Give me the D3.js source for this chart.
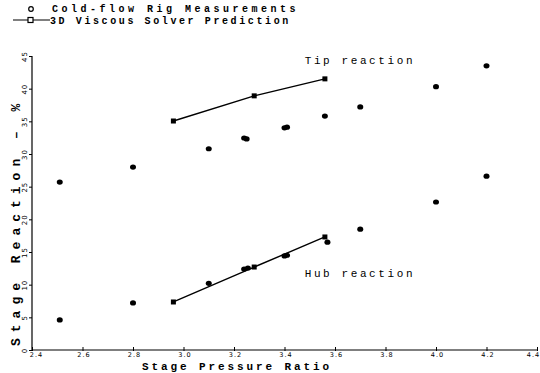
<!DOCTYPE html>
<html><head><meta charset="utf-8">
<script src="https://cdn.jsdelivr.net/npm/d3@7"></script>
<style>body{margin:0;background:#fff}svg{display:block}</style>
</head><body>
<script>
// Data
const measPR   = [2.51, 2.80, 3.10, 3.24, 3.25, 3.40, 3.41, 3.56, 3.70, 4.00, 4.20];
const measTip  = [25.7, 28.0, 30.8, 32.45, 32.3, 34.0, 34.1, 35.8, 37.2, 40.3, 43.5];
const measHubPR= [2.51, 2.80, 3.10, 3.24, 3.255, 3.40, 3.41, 3.57, 3.70, 4.00, 4.20];
const measHub  = [4.6, 7.2, 10.2, 12.4, 12.55, 14.4, 14.5, 16.5, 18.5, 22.65, 26.6];
const predPR   = [2.96, 3.28, 3.56];
const predTip  = [35.05, 38.9, 41.5];
const predHub  = [7.35, 12.7, 17.3];
const xTicks = [2.4, 2.6, 2.8, 3.0, 3.2, 3.4, 3.6, 3.8, 4.0, 4.2, 4.4];
const yTicks = [0, 5, 10, 15, 20, 25, 30, 35, 40, 45];
const legendLabels = ["Cold-flow Rig Measurements", "3D Viscous Solver Prediction"];
const annotations = [{t:"Tip reaction", pr:3.48, v:43.7}, {t:"Hub reaction", pr:3.48, v:11.2}];

const W = 540, H = 373;
const svg = d3.select("body").append("svg").attr("width", W).attr("height", H);
const x = d3.scaleLinear().domain([2.4, 4.4]).range([32, 537]);
const y = d3.scaleLinear().domain([0, 45]).range([350, 56]);
const mono = "'Liberation Mono', 'DejaVu Sans Mono', monospace";

// X axis
const xa = svg.append("g").attr("transform", `translate(0,${y(0)})`)
  .call(d3.axisBottom(x).tickValues(xTicks).tickSize(1).tickPadding(1.5).tickFormat(d3.format(".1f")));
xa.select(".domain").attr("stroke", "#000").attr("stroke-width", 1.2).attr("d", `M${x(2.4)},0H${x(4.4)}`);
xa.selectAll(".tick line").attr("stroke", "#000").attr("y1", -3).attr("y2", 1);
xa.selectAll(".tick text").attr("font-family", "'DejaVu Sans', sans-serif").attr("font-size", 6.5)
  .attr("letter-spacing", 1).attr("fill", "#000")
  .attr("dx", d => d === 4.4 ? -4 : (d === 2.4 ? 4 : 1));

// Y axis
const ya = svg.append("g").attr("transform", `translate(${x(2.4)},0)`)
  .call(d3.axisLeft(y).tickValues(yTicks).tickSize(3).tickPadding(0).tickFormat(d3.format("d")));
ya.select(".domain").attr("stroke", "#000").attr("stroke-width", 1.2).attr("d", `M0,${y(45)}V${y(0)}`);
ya.selectAll(".tick line").attr("stroke", "#000");
ya.selectAll(".tick text").attr("font-family", "'DejaVu Sans', sans-serif").attr("font-size", 7)
  .attr("fill", "#000").attr("text-anchor", "middle").attr("letter-spacing", 1)
  .attr("transform", "translate(-7,0) rotate(-90)").attr("x", 0).attr("dy", "0.35em");

// Prediction lines
const line = d3.line().x(d => x(d[0])).y(d => y(d[1]));
[predTip, predHub].forEach(arr => {
  const pts = predPR.map((p, i) => [p, arr[i]]);
  svg.append("path").attr("d", line(pts)).attr("fill", "none").attr("stroke", "#000").attr("stroke-width", 1.4);
  svg.selectAll(null).data(pts).enter().append("rect")
    .attr("x", d => x(d[0]) - 2.5).attr("y", d => y(d[1]) - 2.5)
    .attr("width", 5).attr("height", 5).attr("fill", "#000");
});

// Measurements
const meas = measPR.map((p, i) => [p, measTip[i]]).concat(measHubPR.map((p, i) => [p, measHub[i]]));
svg.selectAll(null).data(meas).enter().append("ellipse")
  .attr("cx", d => x(d[0])).attr("cy", d => y(d[1])).attr("rx", 3).attr("ry", 2.6).attr("fill", "#000");

// Annotations
svg.selectAll(null).data(annotations).enter().append("text")
  .attr("x", d => x(d.pr)).attr("y", d => y(d.v))
  .attr("font-family", mono).attr("font-size", 11).attr("letter-spacing", 2.6)
  .attr("fill", "#000").text(d => d.t);

// Axis titles
svg.append("text").attr("x", 142).attr("y", 369.5).attr("font-family", mono).attr("font-weight", "bold")
  .attr("font-size", 11).attr("letter-spacing", 2.9).attr("fill", "#000").text("Stage Pressure Ratio");
svg.append("text").attr("transform", "translate(20,346) rotate(-90)").attr("font-family", mono)
  .attr("font-weight", "bold").attr("font-size", 13).attr("letter-spacing", 6).attr("fill", "#000")
  .text("Stage Reaction – %");

// Legend
const lg = svg.append("g");
lg.append("circle").attr("cx", 31).attr("cy", 9).attr("r", 2.3).attr("fill", "none").attr("stroke", "#000").attr("stroke-width", 1.2);
lg.append("line").attr("x1", 13).attr("x2", 50).attr("y1", 20).attr("y2", 20).attr("stroke", "#000").attr("stroke-width", 1.2);
lg.append("rect").attr("x", 28).attr("y", 17.5).attr("width", 5).attr("height", 5).attr("fill", "#fff").attr("stroke", "#000").attr("stroke-width", 1.2);
lg.append("text").attr("x", 52).attr("y", 12).attr("font-family", mono).attr("font-weight", "bold")
  .attr("font-size", 10).attr("letter-spacing", 3.5).attr("fill", "#000").text(legendLabels[0]);
lg.append("text").attr("x", 50).attr("y", 24).attr("font-family", mono).attr("font-weight", "bold")
  .attr("font-size", 10).attr("letter-spacing", 2.6).attr("fill", "#000").text(legendLabels[1]);
</script>
</body></html>
